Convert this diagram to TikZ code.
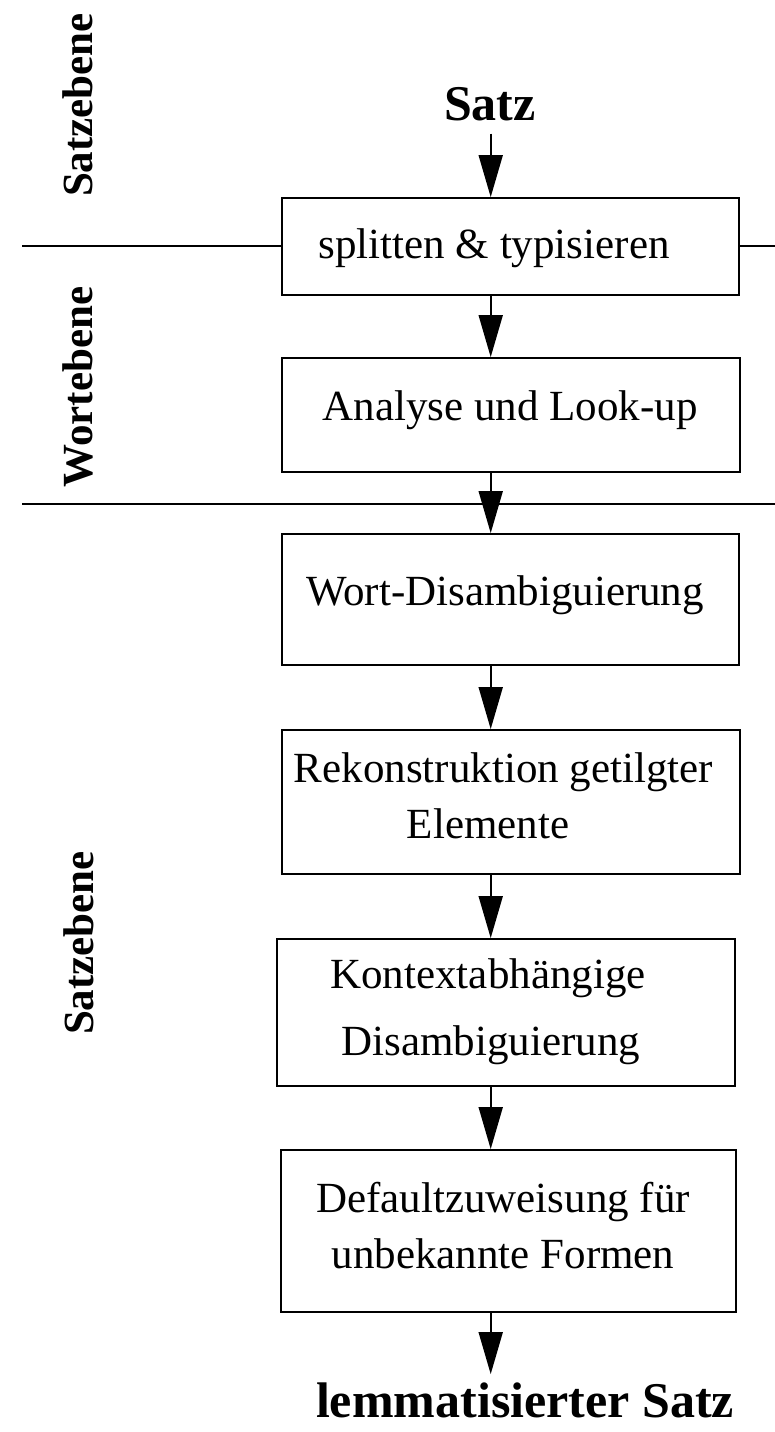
\documentclass[tikz,border=0pt]{standalone}
\usepackage{fontspec}
\setmainfont{Liberation Serif}
\usetikzlibrary{arrows.meta}
\begin{document}
\begin{tikzpicture}[x=1pt,y=-1pt,
  box/.style={draw, line width=1.8pt, inner sep=0pt},
  txt/.style={inner sep=0pt, font=\fontsize{43}{50}\selectfont},
  ttl/.style={inner sep=0pt, font=\fontsize{50}{58}\selectfont\bfseries},
  lvl/.style={inner sep=0pt, rotate=90, font=\fontsize{43}{50}\selectfont\bfseries},
  arr/.style={-{Triangle[width=24pt,length=42pt]}, line width=1.8pt},
  sep/.style={line width=1.8pt}]
\fill[white] (0,0) rectangle (775,1432);
\useasboundingbox (0,0) rectangle (775,1432);

% axis of the arrows
\coordinate (ax) at (490.7,0);

% level labels
\node[lvl] (lv1) at (78,105) {Satzebene};
\node[lvl] (lv2) at (78,387) {Wortebene};
\node[lvl] (lv3) at (79,943) {Satzebene};

% input / output
\node[ttl, anchor=base] (in) at (490,120) {Satz};
\node[ttl, anchor=base] (out) at (525,1417) {lemmatisierter Satz};

% boxes
\node[box, minimum width=457pt, minimum height=97pt]  (b1) at (510.5,246.5) {};
\node[box, minimum width=458pt, minimum height=114pt] (b2) at (511,415) {};
\node[box, minimum width=457pt, minimum height=131pt] (b3) at (510.5,599.5) {};
\node[box, minimum width=458pt, minimum height=144pt] (b4) at (511,802) {};
\node[box, minimum width=458pt, minimum height=147pt] (b5) at (506,1012.5) {};
\node[box, minimum width=455pt, minimum height=162pt] (b6) at (508.5,1231) {};

% box texts
\node[txt, anchor=base] (t1) at (494,258) {splitten \& typisieren};
\node[txt, anchor=base] (t2) at (510,420) {Analyse und Look-up};
\node[txt, anchor=base] (t3) at (505,605) {Wort-Disambiguierung};
\node[txt, anchor=base] (t4a) at (503.5,782) {Rekonstruktion getilgter};
\node[txt, anchor=base] (t4b) at (488,838) {Elemente};
\node[txt, anchor=base] (t5a) at (488,988) {Kontextabhängige};
\node[txt, anchor=base] (t5b) at (491,1055) {Disambiguierung};
\node[txt, anchor=base] (t6a) at (503,1212) {Defaultzuweisung für};
\node[txt, anchor=base] (t6b) at (503,1268) {unbekannte Formen};

% level separators
\coordinate (s1L) at (22,246);
\coordinate (s1R) at (775,246);
\coordinate (s2L) at (22,504);
\coordinate (s2R) at (775,504);
\draw[sep] (s1L) -- (s1L -| b1.west);
\draw[sep] (s1R -| b1.east) -- (s1R);
\draw[sep] (s2L) -- (s2R);

% arrows
\draw[arr, shorten <=13pt] (in.south -| ax) -- (b1.north -| ax);
\draw[arr] (b1.south -| ax) -- (b2.north -| ax);
\draw[arr] (b2.south -| ax) -- (b3.north -| ax);
\draw[arr] (b3.south -| ax) -- (b4.north -| ax);
\draw[arr] (b4.south -| ax) -- (b5.north -| ax);
\draw[arr] (b5.south -| ax) -- (b6.north -| ax);
\draw[arr, shorten >=8pt] (b6.south -| ax) -- (out.north -| ax);
\end{tikzpicture}
\end{document}
